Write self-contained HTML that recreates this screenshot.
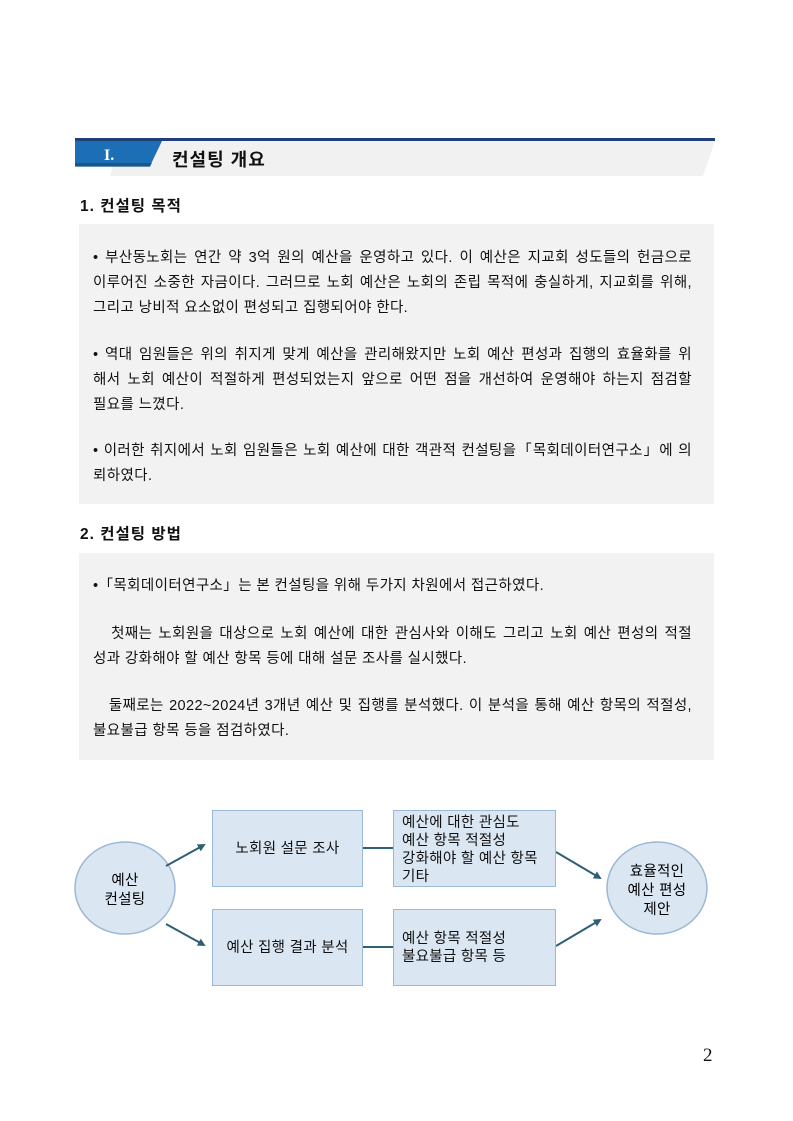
<!DOCTYPE html>
<html><head><meta charset="utf-8"><style>
body{margin:0;width:793px;height:1121px;background:#fff;position:relative;font-family:"Liberation Sans","Noto Sans CJK KR",sans-serif;color:#111;overflow:hidden}
.a{position:absolute}
.box{position:absolute;background:#f2f2f2;left:79px;width:635px}
.t{position:absolute;left:93px;width:599px;font-size:14.5px;line-height:25px;letter-spacing:.4px}
.t div{white-space:nowrap;text-align:justify;text-align-last:justify}
.t div.l{text-align-last:left}
.h{position:absolute;left:80px;font-size:15.5px;font-weight:bold;letter-spacing:1px}
.n{position:absolute;background:#dbe6f3;border:1.5px solid #9bb8d6;box-sizing:border-box;font-size:14.5px;line-height:18px;display:flex;align-items:center;letter-spacing:.3px}
</style></head><body>
<svg class="a" style="left:0;top:0" width="793" height="200">
<polygon points="120,141 715,141 703,176 110,176" fill="#f1f1f1"/>
<rect x="75" y="138" width="640" height="3" fill="#1f3f7a"/>
<polygon points="75,141 162,141 150,166 75,166" fill="#1d6fb5"/>
<polygon points="75,163 152,163 150,167 75,167" fill="#10487e" opacity=".6"/>
<text x="104" y="160" font-family="Liberation Serif,serif" font-size="16" font-weight="bold" fill="#fff">I.</text>
</svg>
<div class="a" style="left:172px;top:146px;font-size:18px;font-weight:bold;letter-spacing:1px">컨설팅 개요</div>
<div class="h" style="top:194px">1. 컨설팅 목적</div>
<div class="box" style="top:224px;height:280px"></div>
<div class="t" style="top:246px"><div>• 부산동노회는 연간 약 3억 원의 예산을 운영하고 있다. 이 예산은 지교회 성도들의 헌금으로</div><div>이루어진 소중한 자금이다. 그러므로 노회 예산은 노회의 존립 목적에 충실하게, 지교회를 위해,</div><div class="l">그리고 낭비적 요소없이 편성되고 집행되어야 한다.</div></div>
<div class="t" style="top:343px"><div>• 역대 임원들은 위의 취지게 맞게 예산을 관리해왔지만 노회 예산 편성과 집행의 효율화를 위</div><div>해서 노회 예산이 적절하게 편성되었는지 앞으로 어떤 점을 개선하여 운영해야 하는지 점검할</div><div class="l">필요를 느꼈다.</div></div>
<div class="t" style="top:439px"><div>• 이러한 취지에서 노회 임원들은 노회 예산에 대한 객관적 컨설팅을「목회데이터연구소」에 의</div><div class="l">뢰하였다.</div></div>
<div class="h" style="top:522px">2. 컨설팅 방법</div>
<div class="box" style="top:553px;height:207px"></div>
<div class="t" style="top:574px"><div class="l">•「목회데이터연구소」는 본 컨설팅을 위해 두가지 차원에서 접근하였다.</div></div>
<div class="t" style="top:622px"><div>&nbsp;&nbsp;&nbsp;첫째는 노회원을 대상으로 노회 예산에 대한 관심사와 이해도 그리고 노회 예산 편성의 적절</div><div class="l">성과 강화해야 할 예산 항목 등에 대해 설문 조사를 실시했다.</div></div>
<div class="t" style="top:694px"><div>&nbsp;&nbsp;&nbsp;둘째로는 2022~2024년 3개년 예산 및 집행를 분석했다. 이 분석을 통해 예산 항목의 적절성,</div><div class="l">불요불급 항목 등을 점검하였다.</div></div>
<svg class="a" style="left:0;top:790px" width="793" height="210">
<defs><marker id="m" markerWidth="8" markerHeight="8" refX="6" refY="4" orient="auto" markerUnits="userSpaceOnUse"><path d="M0,0 L8,4 L0,8z" fill="#2f5f75"/></marker></defs>
<ellipse cx="125" cy="98" rx="50" ry="46" fill="#dbe6f3" stroke="#9bb8d6" stroke-width="1.5"/>
<ellipse cx="657" cy="98" rx="50" ry="46" fill="#dbe6f3" stroke="#9bb8d6" stroke-width="1.5"/>
<g stroke="#2f5f75" stroke-width="2" fill="none">
<line x1="166" y1="76" x2="204" y2="55" marker-end="url(#m)"/>
<line x1="166" y1="134" x2="204" y2="155" marker-end="url(#m)"/>
<line x1="363" y1="58" x2="393" y2="58"/>
<line x1="363" y1="157" x2="393" y2="157"/>
<line x1="556" y1="62" x2="600" y2="88" marker-end="url(#m)"/>
<line x1="556" y1="156" x2="600" y2="130" marker-end="url(#m)"/>
</g>
<g font-size="14.5" font-family="Liberation Sans,Noto Sans CJK KR,sans-serif" text-anchor="middle" letter-spacing=".3">
<text x="125" y="95">예산</text>
<text x="125" y="114">컨설팅</text>
<text x="657" y="86">효율적인</text>
<text x="657" y="105">예산 편성</text>
<text x="657" y="124">제안</text>
</g>
</svg>
<div class="n" style="left:212px;top:810px;width:151px;height:77px;justify-content:center">노회원 설문 조사</div>
<div class="n" style="left:212px;top:909px;width:151px;height:77px;justify-content:center">예산 집행 결과 분석</div>
<div class="n" style="left:393px;top:810px;width:163px;height:77px;padding-left:8px;align-items:flex-start;padding-top:3px">예산에 대한 관심도<br>예산 항목 적절성<br>강화해야 할 예산 항목<br>기타</div>
<div class="n" style="left:393px;top:909px;width:163px;height:77px;padding-left:8px;align-items:flex-start;padding-top:20px">예산 항목 적절성<br>불요불급 항목 등</div>
<div class="a" style="left:703px;top:1045px;font-family:'Liberation Serif',serif;font-size:19px">2</div>
</body></html>
